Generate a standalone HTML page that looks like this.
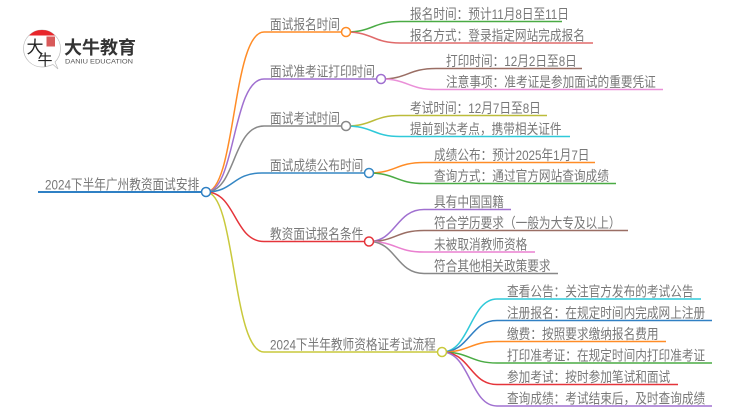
<!DOCTYPE html>
<html lang="zh"><head><meta charset="utf-8"><style>
html,body{margin:0;padding:0;background:#fff}
svg{display:block}
text{font-family:"Liberation Sans","Noto Sans CJK SC",sans-serif;font-size:11.67px;fill:#787878}
path{fill:none;stroke-width:1.5}
circle{fill:#fff;stroke-width:1.5}
</style></head><body>
<svg width="750" height="410" viewBox="0 0 750 410" xmlns="http://www.w3.org/2000/svg">
<!-- logo -->
<path d="M53 64.500C49 66 46 67 42 67C32 67 23.500 59 23.500 48.500C23.500 38 32 30 42 30C52 30 60.500 38 60.500 48.500C60.500 54 58 59 55 62L58 69Z" style="fill:#fff;stroke:#bbb;stroke-width:.7"/>
<path d="M29 35.500C33 31.500 37 30 42 30C47 30 51 31.500 55 35.500Z" style="fill:#e8262b;stroke:none"/>
<rect x="46.500" y="36.500" width="8.500" height="10" fill="#d85a5a"/>
<text x="26.500" y="53" style="font-size:17px;fill:#222;font-weight:400">大</text>
<text x="37.500" y="65" style="font-size:15px;fill:#222;font-weight:400">牛</text>
<text x="64" y="54" style="font-size:18px;font-weight:700;fill:#333">大牛教育</text>
<text x="65" y="63.500" style="font-size:6.8px;fill:#555" textLength="68" lengthAdjust="spacingAndGlyphs">DANIU EDUCATION</text>

<!-- root -->
<path d="M38 192H206" stroke="#2f80c4" style="stroke-width:2"/>
<path d="M206 192C236 192 232 32 264 32H346" stroke="#ff8c26"/>
<path d="M206 192C236 192 232 79 264 79H381" stroke="#a070d0"/>
<path d="M206 192C236 192 232 126 264 126H346" stroke="#888888"/>
<path d="M206 192C234 192 232 173 262 173H369" stroke="#3587c4"/>
<path d="M206 192C236 192 234 241.500 264 241.500H369" stroke="#e5343a"/>
<path d="M206 192C236 192 232 352 264 352H442" stroke="#c9c93c"/>

<!-- leaves -->
<path d="M346 32C373 32 373 21.500 400 21.500H562" stroke="#4aab44"/>
<path d="M346 32C373 32 373 43 400 43H593" stroke="#e06a6a"/>
<path d="M381 79C408 79 408 68.500 436 68.500H582" stroke="#9a6e64"/>
<path d="M381 79C408 79 408 89.500 436 89.500H663" stroke="#ea90d8"/>
<path d="M346 126C373 126 373 115.500 400 115.500H547" stroke="#bcbc3a"/>
<path d="M346 126C373 126 373 136.500 400 136.500H570" stroke="#2fc9d9"/>
<path d="M369 173C396 173 396 162.500 424 162.500H595" stroke="#ff8c26"/>
<path d="M369 173C396 173 396 183.500 424 183.500H616" stroke="#4aab44"/>
<path d="M369 241.500C396 241.500 396 209.500 424 209.500H511" stroke="#a070d0"/>
<path d="M369 241.500C396 241.500 396 230.500 424 230.500H628" stroke="#9a6e64"/>
<path d="M369 241.500C396 241.500 396 252 424 252H535" stroke="#ea80d0"/>
<path d="M369 241.500C396 241.500 396 273.500 424 273.500H558" stroke="#888888"/>
<path d="M442 352C470 352 470 299 497 299H701" stroke="#2fc9d9"/>
<path d="M442 352C470 352 470 320.500 497 320.500H712" stroke="#3080c4"/>
<path d="M442 352C470 352 470 341.500 497 341.500H666" stroke="#ff8c26"/>
<path d="M442 352C470 352 470 363 497 363H712" stroke="#4aab44"/>
<path d="M442 352C470 352 470 384.500 497 384.500H678" stroke="#e5343a"/>
<path d="M442 352C470 352 470 406 497 406H712" stroke="#a070d0"/>

<!-- nodes -->
<circle cx="206" cy="192" r="4.500" stroke="#2f80c4"/>
<circle cx="346" cy="32" r="4.500" stroke="#ff8c26"/>
<circle cx="381" cy="79" r="4.500" stroke="#a070d0"/>
<circle cx="346" cy="126" r="4.500" stroke="#888888"/>
<circle cx="369" cy="173" r="4.500" stroke="#3587c4"/>
<circle cx="369" cy="241.500" r="4.500" stroke="#e5343a"/>
<circle cx="442" cy="352" r="4.500" stroke="#c9c93c"/>

<!-- labels -->
<text transform="translate(45 189.500) scale(1 1.2)">2024下半年广州教资面试安排</text>
<text transform="translate(270 29.500) scale(1 1.2)">面试报名时间</text>
<text transform="translate(270 76.500) scale(1 1.2)">面试准考证打印时间</text>
<text transform="translate(270 123.500) scale(1 1.2)">面试考试时间</text>
<text transform="translate(270 170.500) scale(1 1.2)">面试成绩公布时间</text>
<text transform="translate(270 239) scale(1 1.2)">教资面试报名条件</text>
<text transform="translate(270 349.500) scale(1 1.2)">2024下半年教师资格证考试流程</text>

<text transform="translate(410 19) scale(1 1.2)">报名时间：预计11月8日至11日</text>
<text transform="translate(410 40.500) scale(1 1.2)">报名方式：登录指定网站完成报名</text>
<text transform="translate(446 66) scale(1 1.2)">打印时间：12月2日至8日</text>
<text transform="translate(446 87) scale(1 1.2)">注意事项：准考证是参加面试的重要凭证</text>
<text transform="translate(410 113) scale(1 1.2)">考试时间：12月7日至8日</text>
<text transform="translate(410 134) scale(1 1.2)">提前到达考点，携带相关证件</text>
<text transform="translate(434 160) scale(1 1.2)">成绩公布：预计2025年1月7日</text>
<text transform="translate(434 181) scale(1 1.2)">查询方式：通过官方网站查询成绩</text>
<text transform="translate(434 207) scale(1 1.2)">具有中国国籍</text>
<text transform="translate(434 228) scale(1 1.2)">符合学历要求（一般为大专及以上）</text>
<text transform="translate(434 249.500) scale(1 1.2)">未被取消教师资格</text>
<text transform="translate(434 271) scale(1 1.2)">符合其他相关政策要求</text>
<text transform="translate(507 296.500) scale(1 1.2)">查看公告：关注官方发布的考试公告</text>
<text transform="translate(507 318) scale(1 1.2)">注册报名：在规定时间内完成网上注册</text>
<text transform="translate(507 339) scale(1 1.2)">缴费：按照要求缴纳报名费用</text>
<text transform="translate(507 360.500) scale(1 1.2)">打印准考证：在规定时间内打印准考证</text>
<text transform="translate(507 382) scale(1 1.2)">参加考试：按时参加笔试和面试</text>
<text transform="translate(507 403.500) scale(1 1.2)">查询成绩：考试结束后，及时查询成绩</text>
</svg>
</body></html>
